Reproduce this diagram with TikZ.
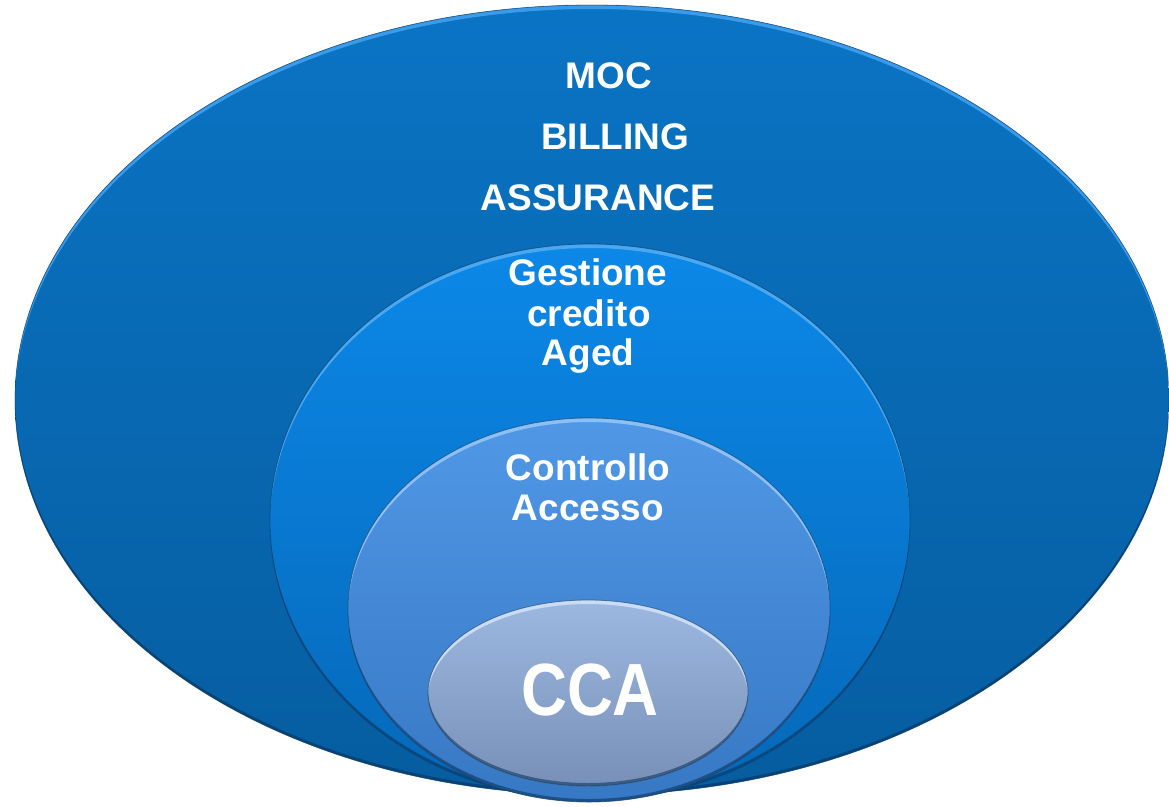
\documentclass[tikz,border=0pt]{standalone}
\usepackage{fontspec}
\setmainfont{Liberation Sans}
\definecolor{oTop}{HTML}{0A74C4}
\definecolor{oBot}{HTML}{065DA0}
\definecolor{oRim}{HTML}{3A9BEA}
\definecolor{gTop}{HTML}{0C88E8}
\definecolor{gBot}{HTML}{0568B8}
\definecolor{gRim}{HTML}{4AA8F0}
\definecolor{cTop}{HTML}{5098E6}
\definecolor{cBot}{HTML}{3778C4}
\definecolor{cRim}{HTML}{8CC0F4}
\definecolor{iTop}{HTML}{9DB8E0}
\definecolor{iBot}{HTML}{7890B8}
\definecolor{iRim}{HTML}{C8DCF6}
\definecolor{edge}{HTML}{082F55}
\newcommand\bubble[7]{%
  \shade[top color=#5, bottom color=#6] (#1,#2) ellipse [x radius=#3, y radius=#4];
  \begin{scope}
    \clip (#1,#2) ellipse [x radius=#3, y radius=#4];
    \fill[#7, even odd rule] (#1,#2) ellipse [x radius=#3, y radius=#4]
         (#1,#2+4) ellipse [x radius=#3, y radius=#4];
    \fill[edge, opacity=0.55, even odd rule] (#1,#2) ellipse [x radius=#3, y radius=#4]
         (#1,#2-3) ellipse [x radius=#3, y radius=#4];
  \end{scope}
  \draw[edge, line width=0.8, opacity=0.5] (#1,#2) ellipse [x radius=#3, y radius=#4];}
\tikzset{
  lbl/.style={text=white, font=\fontsize{37}{44}\selectfont\bfseries, anchor=base, inner sep=0pt},
  big/.style={text=white, font=\fontsize{74}{80}\selectfont\bfseries, anchor=base, inner sep=0pt, xscale=0.86}
}
\begin{document}
\begin{tikzpicture}[x=1pt,y=-1pt]
\useasboundingbox (0,0) rectangle (1169,806);
\clip (0,0) rectangle (1169,806);
\bubble{592}{400}{577}{395}{oTop}{oBot}{oRim}
\bubble{590}{522}{320}{278}{gTop}{gBot}{gRim}
\bubble{589}{610}{241}{192}{cTop}{cBot}{cRim}
\bubble{588}{693}{160}{93}{iTop}{iBot}{iRim}
\node[lbl] (moc) at (609,88) {MOC};
\node[lbl] (billing) at (615,149) {BILLING};
\node[lbl] (assurance) at (598,210) {ASSURANCE};
\node[lbl] (gestione) at (588,285) {Gestione};
\node[lbl] (credito) at (589,326) {credito};
\node[lbl] (aged) at (588,365) {Aged};
\node[lbl] (controllo) at (588,480) {Controllo};
\node[lbl] (accesso) at (588,520) {Accesso};
\node[big] (cca) at (590,715) {CCA};
\end{tikzpicture}
\end{document}
